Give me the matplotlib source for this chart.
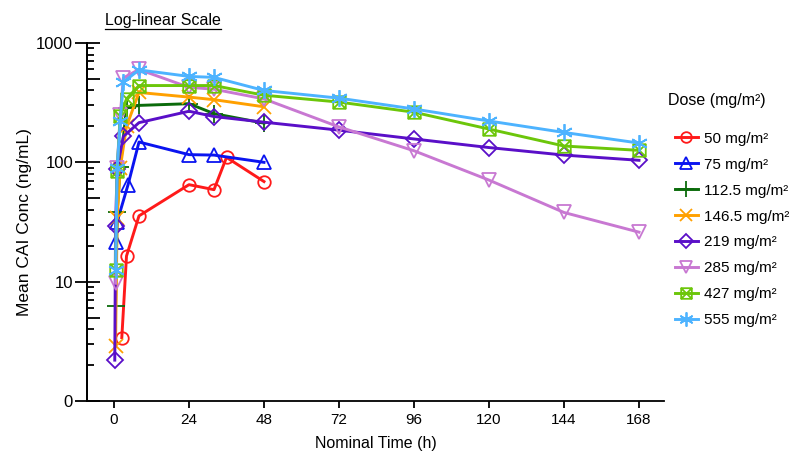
import numpy as np
import matplotlib
matplotlib.use("Agg")
import matplotlib.pyplot as plt
from matplotlib.path import Path
from matplotlib.lines import Line2D
from matplotlib.ticker import LogLocator, FixedLocator, NullFormatter, NullLocator

plt.rcParams['font.family'] = ['Liberation Sans', 'DejaVu Sans']

# Data
doses = ["50", "75", "112.5", "146.5", "219", "285", "427", "555"]

time_50 = [2.5, 4, 8, 24, 32, 36, 48]
conc_50 = [3.4, 16.4, 35.6, 65, 59, 110, 69]

time_75 = [0.5, 1, 4.5, 8, 24, 32, 48]
conc_75 = [21.6, 31.7, 65, 148, 116, 115, 100]

time_112 = [0.5, 1, 2, 4, 8, 24, 32, 48]
conc_112 = [6.2, 38, 92, 285, 300, 310, 256, 213]

time_146 = [0.5, 1, 2, 4, 8, 24, 32, 48]
conc_146 = [2.9, 34, 90, 200, 385, 352, 335, 292]

time_219 = [0.25, 0.5, 1, 3, 8, 24, 32, 48, 72, 96, 120, 144, 168]
conc_219 = [2.2, 29, 88, 165, 215, 268, 242, 217, 186, 157, 133, 115, 104]

time_285 = [0.5, 1, 2, 3, 8, 24, 32, 48, 72, 96, 120, 144, 168]
conc_285 = [9.7, 90, 250, 510, 600, 425, 410, 340, 198, 125, 71, 38, 26]

time_427 = [0.5, 1, 2, 4, 8, 24, 32, 48, 72, 96, 120, 144, 168]
conc_427 = [12.5, 85, 245, 340, 440, 440, 440, 365, 320, 263, 190, 137, 126]

time_555 = [0.5, 1, 2, 3, 8, 24, 32, 48, 72, 96, 120, 144, 168]
conc_555 = [12.5, 90, 220, 470, 595, 525, 515, 400, 345, 280, 222, 178, 145]

x_ticks = [0, 24, 48, 72, 96, 120, 144, 168]
y_ticks = [1, 10, 100, 1000]
y_tick_labels = ["0", "10", "100", "1000"]

# square with an X inside
box_x = Path([(-1, -1), (1, -1), (1, 1), (-1, 1), (-1, -1),
              (-1, -1), (1, 1), (1, -1), (-1, 1)],
             [Path.MOVETO, Path.LINETO, Path.LINETO, Path.LINETO, Path.CLOSEPOLY,
              Path.MOVETO, Path.LINETO, Path.MOVETO, Path.LINETO])

series = [
    (time_50, conc_50, '#FF1A1A', 'o', 9),
    (time_75, conc_75, '#0A14F0', '^', 10.5),
    (time_112, conc_112, '#0B6B0B', '+', 13),
    (time_146, conc_146, '#FFA000', 'x', 9.5),
    (time_219, conc_219, '#5A0FC8', 'D', 8.5),
    (time_285, conc_285, '#C878D2', 'v', 10.5),
    (time_427, conc_427, '#6CC60A', box_x, 9),
    (time_555, conc_555, '#4DB3FF', (6, 2, 0), 12),
]

fig = plt.figure(figsize=(7.95, 4.63), dpi=100)
ax = fig.add_axes([87 / 795, 62 / 463, 577 / 795, 358 / 463])

handles = []
for (t, c, color, marker, ms), dose in zip(series, doses):
    ax.plot(t, c, color=color, lw=2.1, marker=marker, ms=ms,
            mfc='none', mec=color, mew=1.3, clip_on=False)
    handles.append(Line2D([], [], color=color, lw=2.1, marker=marker, ms=ms * 0.85,
                          mfc='none', mec=color, mew=1.3,
                          label=dose + " mg/m\u00b2"))

ax.set_yscale('log')
ax.set_ylim(1, 1000)
ax.set_xlim(-8.64, 176)

ax.spines['top'].set_visible(False)
ax.spines['right'].set_visible(False)
ax.spines['left'].set_linewidth(1.3)
ax.spines['bottom'].set_linewidth(1.3)

ax.set_xticks(x_ticks)
ax.set_xticklabels([str(v) for v in x_ticks], fontsize=11)
ax.tick_params(axis='x', direction='out', length=5, width=1.3, pad=4)

ax.yaxis.set_major_locator(FixedLocator(y_ticks))
ax.set_yticklabels(y_tick_labels, fontsize=12)
ax.yaxis.set_minor_locator(LogLocator(base=10, subs=[2, 3, 4, 6, 7, 8, 9]))
ax.yaxis.set_minor_formatter(NullFormatter())
ax.tick_params(axis='y', which='major', direction='inout', length=18, width=1.3, pad=1)
ax.tick_params(axis='y', which='minor', direction='in', length=5, width=1.3)

# the "5" minor ticks are a bit longer
sec = ax.secondary_yaxis('left')
sec.yaxis.set_major_locator(FixedLocator([5, 50, 500]))
sec.yaxis.set_minor_locator(NullLocator())
sec.yaxis.set_major_formatter(NullFormatter())
sec.tick_params(direction='in', length=9, width=1.3)
sec.spines['left'].set_linewidth(1.3)

ax.set_xlabel("Nominal Time (h)", fontsize=11.5, labelpad=6)
ax.set_ylabel("Mean CAI Conc (ng/mL)", fontsize=12.5, labelpad=3)

# legend title drawn separately, it sits further above the entries
fig.text(668 / 795, 1 - 100 / 463, "Dose (mg/m\u00b2)", fontsize=11.5, va='center')
leg = fig.legend(handles=handles, loc='upper left', bbox_to_anchor=(661 / 795, 1 - 118 / 463),
                 frameon=False, fontsize=11, handlelength=1.5, handletextpad=0.4,
                 labelspacing=0.78)

# underlined panel title
title = fig.text(105 / 795, 1 - 20 / 463, "Log-linear Scale", fontsize=11.5, va='center')
fig.canvas.draw()
bb = title.get_window_extent(fig.canvas.get_renderer())
fig.add_artist(Line2D([bb.x0 / 795, bb.x1 / 795], [(bb.y0 - 1) / 463] * 2,
                      color='black', lw=0.9, transform=fig.transFigure))

fig.savefig("out.png", dpi=100)
